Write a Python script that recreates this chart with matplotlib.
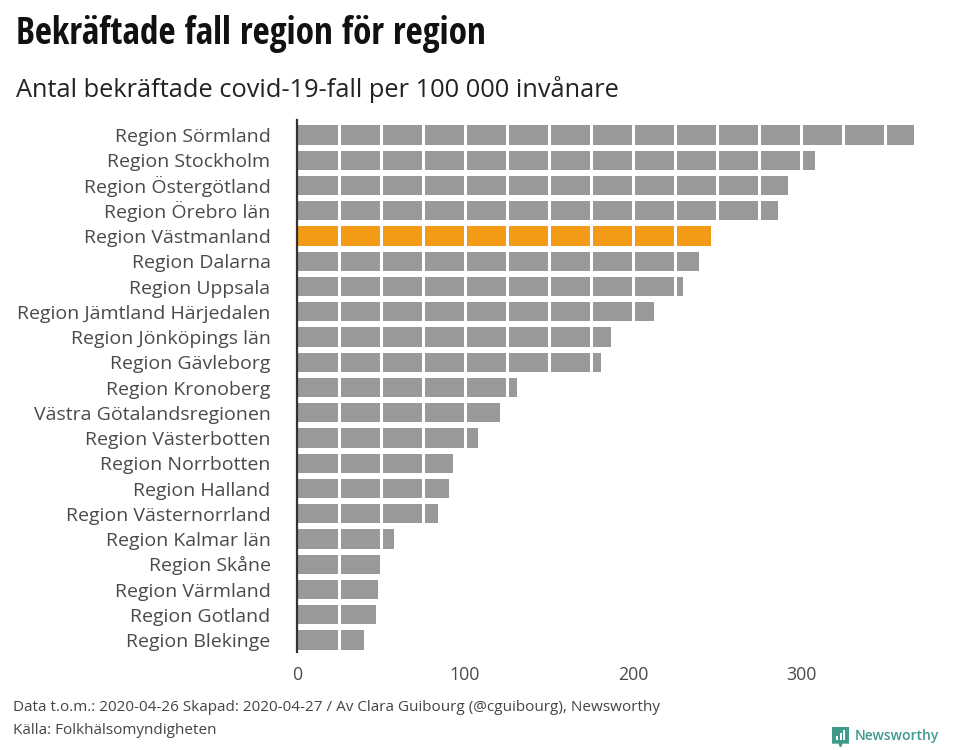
import matplotlib
matplotlib.use("Agg")
import matplotlib.pyplot as plt
from matplotlib import font_manager as fm
from matplotlib.transforms import ScaledTranslation

regions = ["Region Sörmland", "Region Stockholm", "Region Östergötland", "Region Örebro län",
           "Region Västmanland", "Region Dalarna", "Region Uppsala", "Region Jämtland Härjedalen",
           "Region Jönköpings län", "Region Gävleborg", "Region Kronoberg", "Västra Götalandsregionen",
           "Region Västerbotten", "Region Norrbotten", "Region Halland", "Region Västernorrland",
           "Region Kalmar län", "Region Skåne", "Region Värmland", "Region Gotland", "Region Blekinge"]
values = [367, 308.5, 292, 286.5, 246.5, 239, 230, 212.5, 187, 181, 131, 121, 108, 93, 90.5, 84, 58, 49.5, 48, 47, 40]
highlight = "Region Västmanland"
x_ticks = [0, 100, 200, 300]
grid_steps = [25, 50, 75, 100, 125, 150, 175, 200, 225, 250, 275, 300, 325, 350]

GREY = "#999999"
ORANGE = "#F39A16"
TEXT = "#4a4a4a"
plt.rcParams["font.family"] = ["Open Sans", "DejaVu Sans"]

available = {f.name for f in fm.fontManager.ttflist}
title_font = next(n for n in ["Open Sans Condensed", "Barlow Condensed", "Open Sans"] if n in available)

W, H = 960, 750
fig = plt.figure(figsize=(W / 100, H / 100), dpi=100, facecolor="white")
left, right, top, bottom = 297, 930, 120, 652
ax = fig.add_axes([left / W, 1 - bottom / H, (right - left) / W, (bottom - top) / H])
ax.set_xlim(0, (right - left) / 1.68)
ax.set_ylim(20.475, -0.594)

colors = [ORANGE if r == highlight else GREY for r in regions]
ax.barh(range(len(regions)), values, height=0.76, color=colors, zorder=2)
for g in grid_steps:
    ax.axvline(g, color="white", lw=2.2, zorder=3)

for s in ["top", "right", "bottom"]:
    ax.spines[s].set_visible(False)
ax.spines["left"].set_color("#333333")
ax.spines["left"].set_linewidth(1.6)
ax.spines["left"].set_zorder(4)
ax.set_yticks(range(len(regions)), regions, fontsize=14.0, color=TEXT)
ax.set_xticks(x_ticks, [str(t) for t in x_ticks], fontsize=12.8, color=TEXT)
ax.tick_params(axis="both", length=0)
ax.tick_params(axis="y", pad=19)
ax.tick_params(axis="x", pad=10)
# Same baseline offset for every label, so umlauts do not shift a row
shift = ScaledTranslation(0, -7.2 / 100, fig.dpi_scale_trans)
for lab in ax.get_yticklabels():
    lab.set_va("baseline")
    lab.set_transform(lab.get_transform() + shift)

fig.text(16 / W, 1 - 44 / H, "Bekräftade fall region för region", fontsize=26.7, fontweight="bold",
         family=title_font, color="#111111", va="baseline")
fig.text(16 / W, 1 - 97 / H, "Antal bekräftade covid-19-fall per 100 000 invånare", fontsize=18.3,
         color="#222222", va="baseline")
fig.text(13 / W, 1 - 711 / H, "Data t.o.m.: 2020-04-26 Skapad: 2020-04-27 / Av Clara Guibourg (@cguibourg), Newsworthy",
         fontsize=11, color="#444444", va="baseline")
fig.text(13 / W, 1 - 734 / H, "Källa: Folkhälsomyndigheten", fontsize=11, color="#444444", va="baseline")

TEAL = "#3f9a8b"
logo = fig.add_axes([832 / W, 1 - 747 / H, 17 / W, 20 / H])
logo.axis("off")
logo.fill([0, 17, 17, 10, 8.5, 7, 0], [0, 0, 16, 16, 20, 16, 16], color=TEAL)
logo.bar([5, 8.5, 12], [-4, -7, -10], bottom=[13, 13, 13], width=2, color="white", align="center")
logo.set_xlim(0, 17)
logo.set_ylim(20, 0)
fig.text(855 / W, 1 - 740 / H, "Newsworthy", fontsize=10, fontweight="semibold", color=TEAL, va="baseline")

fig.savefig("out.png", dpi=100, facecolor="white")
